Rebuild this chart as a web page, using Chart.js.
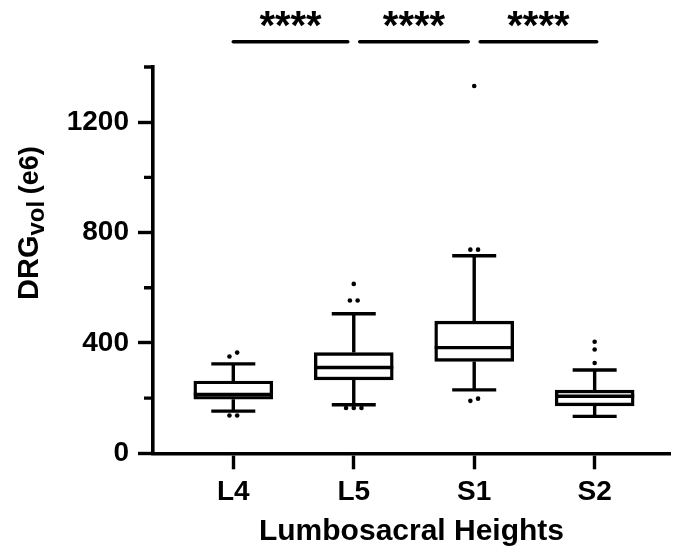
<!DOCTYPE html>
<html>
<head>
<meta charset="utf-8">
<script src="https://cdn.jsdelivr.net/npm/chart.js@4"></script>
<style>
  html,body{margin:0;padding:0;background:#fff;}
  #wrap{width:674px;height:555px;}
</style>
</head>
<body>
<div id="wrap"><canvas id="chart" width="674" height="555"></canvas></div>
<script>
// box plot values (volume, e6)
const categories = ['L4','L5','S1','S2'];
const whiskerLow  = [153, 176, 230, 134];
const q1          = [196, 266, 333, 172];
const median      = [213, 311, 383, 207];
const q3          = [262, 365, 479, 229];
const whiskerHigh = [324, 506, 716, 302];
const outliers = [
  [351, 365, 137, 137],
  [614, 554, 554, 164, 164, 164],
  [1331, 738, 738, 190, 198],
  [404, 376, 327]
];
const comparisons = [[0,1],[1,2],[2,3]];
const sigLabels = ['****','****','****'];

const FONT = '"Liberation Sans", Arial, sans-serif';

// spread outliers with about the same value side by side (like Prism does)
function outlierPoints(){
  const pts = [];
  outliers.forEach((vals,i)=>{
    const sorted = vals.slice().sort((a,b)=>a-b);
    let rows = [];
    sorted.forEach(v=>{
      const last = rows[rows.length-1];
      if(last && v - last[0] <= 15) last.push(v); else rows.push([v]);
    });
    rows.forEach(r=>{
      r.forEach((v,k)=>{
        pts.push({x: i+1 + (k-(r.length-1)/2)*0.064, y: v});
      });
    });
  });
  return pts;
}

const boxParts = {
  id:'boxParts',
  afterDatasetsDraw(chart){
    const {ctx, scales:{x,y}} = chart;
    ctx.save();
    ctx.strokeStyle = '#000';
    ctx.lineWidth = 3.4;
    categories.forEach((c,i)=>{
      const cx = x.getPixelForValue(i+1);
      const capHalf = 22, boxHalf = 39.5;
      ctx.beginPath();
      // whiskers
      ctx.moveTo(cx, y.getPixelForValue(q3[i])); ctx.lineTo(cx, y.getPixelForValue(whiskerHigh[i]));
      ctx.moveTo(cx, y.getPixelForValue(q1[i])); ctx.lineTo(cx, y.getPixelForValue(whiskerLow[i]));
      // caps
      ctx.moveTo(cx-capHalf, y.getPixelForValue(whiskerHigh[i])); ctx.lineTo(cx+capHalf, y.getPixelForValue(whiskerHigh[i]));
      ctx.moveTo(cx-capHalf, y.getPixelForValue(whiskerLow[i])); ctx.lineTo(cx+capHalf, y.getPixelForValue(whiskerLow[i]));
      // median
      ctx.moveTo(cx-boxHalf, y.getPixelForValue(median[i])); ctx.lineTo(cx+boxHalf, y.getPixelForValue(median[i]));
      ctx.stroke();
    });
    ctx.restore();
  },
  afterDraw(chart){
    const {ctx, scales:{x,y}} = chart;
    ctx.save();
    // minor y ticks
    ctx.strokeStyle = '#000'; ctx.lineWidth = 3.4;
    ctx.beginPath();
    y.ticks.forEach(t=>{
      if(t.value % 400 !== 0){
        const py = y.getPixelForValue(t.value);
        ctx.moveTo(chart.chartArea.left-9, py); ctx.lineTo(chart.chartArea.left, py);
      }
    });
    ctx.stroke();

    // significance bars
    const barY = 41.7;
    comparisons.forEach(([a,b],k)=>{
      const xa = x.getPixelForValue(a+1) + (a===0 ? 0 : 6);
      const xb = x.getPixelForValue(b+1) - (b===categories.length-1 ? -2 : 6);
      ctx.lineCap = 'round';
      ctx.lineWidth = 3.6;
      ctx.beginPath(); ctx.moveTo(xa, barY); ctx.lineTo(xb, barY); ctx.stroke();
      ctx.fillStyle = '#000';
      ctx.font = 'bold 40px ' + FONT;
      ctx.textAlign = 'center'; ctx.textBaseline = 'alphabetic';
      ctx.fillText(sigLabels[k], (xa+xb)/2, 39);
    });

    // y title with subscript
    ctx.translate(38, 300);
    ctx.rotate(-Math.PI/2);
    ctx.textAlign = 'left'; ctx.textBaseline = 'alphabetic';
    ctx.fillStyle = '#000';
    ctx.font = 'bold 29px ' + FONT;
    ctx.fillText('DRG', 0, 0);
    let w = ctx.measureText('DRG').width;
    ctx.font = 'bold 24px ' + FONT;
    ctx.fillText('vol', w, 6);
    w += ctx.measureText('vol ').width;
    ctx.font = 'bold 27px ' + FONT;
    ctx.fillText('(e6)', w, 0);
    ctx.restore();
  }
};

new Chart(document.getElementById('chart'), {
  type:'bar',
  data:{
    datasets:[
      {
        type:'bar',
        data: categories.map((c,i)=>({x:i+1, y:[q1[i], q3[i]]})),
        barThickness:79,
        backgroundColor:'#fff',
        borderColor:'#000',
        borderWidth:3.4,
        borderSkipped:false,
        order:2
      },
      {
        type:'scatter',
        data: outlierPoints(),
        pointRadius:2.3,
        pointBackgroundColor:'#000',
        pointBorderWidth:0,
        showLine:false,
        order:1
      }
    ]
  },
  options:{
    responsive:false,
    animation:false,
    layout:{padding:{top:67,left:0,right:0,bottom:0}},
    plugins:{legend:{display:false}, tooltip:{enabled:false}},
    scales:{
      x:{
        type:'linear',
        offset:false,
        min:0.3333, max:4.6255,
        afterBuildTicks(s){ s.ticks = categories.map((c,i)=>({value:i+1})); },
        afterFit(s){ s.height = 555-453.3; s.paddingLeft = 0; s.paddingRight = 0; },
        grid:{display:true, offset:false, drawOnChartArea:false, tickLength:16, tickWidth:3.4, tickColor:'#000'},
        border:{display:true, color:'#000', width:3.6},
        ticks:{
          autoSkip:false, maxRotation:0, padding:6,
          color:'#000', font:{family:FONT, size:28, weight:'bold'},
          callback:v=>categories[v-1] ?? ''
        },
        title:{display:true, text:'Lumbosacral Heights', color:'#000',
          font:{family:FONT, size:30, weight:'bold'}, padding:{top:0,bottom:5}}
      },
      y:{
        min:0, max:1400,
        afterFit(s){ s.width = 153; s.paddingTop = 0; s.paddingBottom = 0; },
        grid:{display:true, drawOnChartArea:false, tickLength:15, tickWidth:3.4,
          tickColor:c=>c.tick && c.tick.value % 400 === 0 ? '#000' : 'rgba(0,0,0,0)'},
        border:{display:true, color:'#000', width:3.6},
        ticks:{
          stepSize:200, padding:9,
          color:'#000', font:{family:FONT, size:28, weight:'bold'},
          callback:v=>v % 400 === 0 ? v : ''
        }
      }
    }
  },
  plugins:[boxParts]
});
</script>
</body>
</html>
